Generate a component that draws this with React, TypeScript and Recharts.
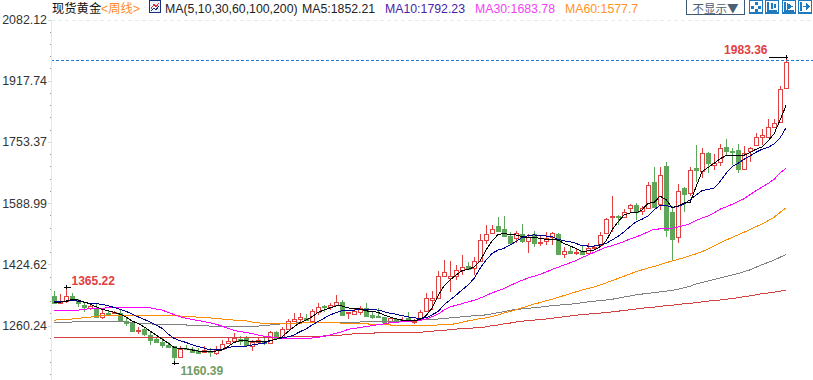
import { Bar, ComposedChart, Line, ReferenceLine, XAxis, YAxis } from 'recharts';

const axisLabels = [2082.12, 1917.74, 1753.37, 1588.99, 1424.62, 1260.24];
const lastPrice = 1972;

const opens = [
  1341, 1321, 1328, 1341, 1330, 1317, 1308, 1308, 1285, 1296,
  1295, 1294, 1274, 1267, 1247, 1251, 1236, 1225, 1217, 1210,
  1206, 1178, 1200, 1198, 1193, 1190, 1193, 1187, 1198, 1214,
  1221, 1225, 1228, 1206, 1217, 1220, 1215, 1243, 1231, 1253,
  1274, 1279, 1282, 1274, 1299, 1315, 1310, 1317, 1325, 1294,
  1292, 1299, 1308, 1290, 1288, 1285, 1272, 1279, 1273, 1281,
  1272, 1281, 1301, 1330, 1335, 1395, 1390, 1395, 1411, 1421,
  1415, 1436, 1492, 1509, 1529, 1521, 1502, 1496, 1506, 1489,
  1506, 1484, 1489, 1500, 1507, 1454, 1462, 1457, 1462, 1455,
  1470, 1478, 1509, 1556, 1556, 1554, 1577, 1585, 1569, 1578,
  1646, 1588, 1689, 1567, 1498, 1631, 1617, 1684, 1676, 1724,
  1694, 1700, 1740, 1731, 1733, 1681, 1731, 1746, 1769, 1769,
  1795, 1808, 1899,
];
const closes = [
  1321, 1325, 1341, 1330, 1322, 1310, 1314, 1285, 1296, 1290,
  1298, 1274, 1267, 1247, 1249, 1239, 1223, 1217, 1210, 1205,
  1178, 1198, 1198, 1191, 1188, 1196, 1190, 1196, 1212, 1220,
  1228, 1221, 1208, 1216, 1223, 1215, 1243, 1227, 1251, 1273,
  1278, 1284, 1276, 1300, 1310, 1310, 1316, 1325, 1290, 1297,
  1301, 1308, 1288, 1285, 1285, 1272, 1281, 1272, 1277, 1274,
  1274, 1299, 1335, 1335, 1394, 1405, 1394, 1411, 1418, 1413,
  1435, 1490, 1507, 1521, 1516, 1502, 1484, 1511, 1489, 1500,
  1484, 1487, 1497, 1509, 1454, 1461, 1457, 1460, 1454, 1469,
  1473, 1505, 1547, 1557, 1554, 1566, 1585, 1566, 1578, 1638,
  1580, 1667, 1518, 1495, 1622, 1616, 1678, 1680, 1724, 1697,
  1699, 1737, 1731, 1727, 1681, 1724, 1737, 1767, 1773, 1794,
  1805, 1896, 1969,
];
const highs = [
  1355, 1346, 1365.22, 1350, 1332, 1323, 1323, 1321, 1303, 1301,
  1301, 1305, 1281, 1272, 1257, 1258, 1245, 1231, 1227, 1218,
  1206, 1206, 1209, 1205, 1200, 1206, 1200, 1206, 1223, 1231,
  1241, 1233, 1233, 1223, 1228, 1227, 1247, 1247, 1258, 1279,
  1296, 1296, 1292, 1305, 1323, 1317, 1321, 1343, 1330, 1299,
  1308, 1314, 1321, 1299, 1308, 1285, 1285, 1281, 1285, 1299,
  1278, 1303, 1348, 1355, 1409, 1437, 1435, 1424, 1451, 1433,
  1446, 1506, 1531, 1531, 1554, 1556, 1513, 1515, 1534, 1506,
  1515, 1503, 1513, 1512, 1509, 1473, 1475, 1466, 1478, 1482,
  1475, 1512, 1549, 1609, 1558, 1574, 1588, 1590, 1583, 1646,
  1686, 1688, 1700, 1583, 1642, 1634, 1686, 1746, 1737, 1728,
  1722, 1749, 1762, 1737, 1749, 1744, 1742, 1778, 1789, 1816,
  1816, 1905, 1983.36,
];
const lows = [
  1321, 1319, 1322, 1327, 1312, 1299, 1303, 1284, 1279, 1289,
  1292, 1272, 1260, 1243, 1238, 1233, 1209, 1215, 1202, 1203,
  1160.39, 1178, 1196, 1188, 1185, 1188, 1178, 1182, 1196, 1214,
  1220, 1209, 1204, 1193, 1212, 1209, 1214, 1225, 1230, 1251,
  1273, 1272, 1274, 1274, 1290, 1299, 1303, 1317, 1288, 1279,
  1290, 1290, 1285, 1279, 1284, 1270, 1267, 1270, 1272, 1272,
  1266, 1278, 1300, 1303, 1335, 1394, 1352, 1384, 1397, 1411,
  1397, 1435, 1480, 1506, 1516, 1498, 1482, 1482, 1484, 1457,
  1473, 1476, 1478, 1478, 1454, 1444, 1454, 1451, 1453, 1454,
  1466, 1475, 1507, 1513, 1531, 1549, 1563, 1545, 1558, 1577,
  1578, 1572, 1498, 1437, 1482, 1567, 1609, 1648, 1657, 1670,
  1679, 1690, 1719, 1693, 1670, 1679, 1701, 1745, 1746, 1767,
  1791, 1806, 1899,
];
const ma5 = [
  1324, 1324, 1327, 1332, 1330, 1325, 1319, 1312, 1305, 1301,
  1297, 1292, 1284, 1274, 1267, 1258, 1247, 1236, 1225, 1215,
  1203, 1199, 1199, 1196, 1193, 1193, 1193, 1193, 1196, 1205,
  1216, 1221, 1221, 1218, 1218, 1218, 1221, 1224, 1231, 1245,
  1258, 1269, 1276, 1285, 1297, 1303, 1309, 1314, 1314, 1309,
  1306, 1306, 1301, 1299, 1297, 1290, 1284, 1280, 1276, 1275,
  1274, 1278, 1288, 1308, 1341, 1368, 1384, 1397, 1409, 1412,
  1419, 1435, 1464, 1488, 1506, 1509, 1506, 1505, 1500, 1497,
  1498, 1496, 1493, 1493, 1491, 1482, 1475, 1469, 1460, 1462,
  1464, 1473, 1488, 1518, 1540, 1558, 1564, 1564, 1572, 1590,
  1592, 1609, 1600, 1579, 1582, 1591, 1591, 1634, 1675, 1686,
  1697, 1709, 1718, 1719, 1718, 1719, 1726, 1735, 1741, 1757,
  1776, 1813, 1852.21,
];
const ma10 = [
  1325, 1325, 1326, 1330, 1327, 1324, 1321, 1321, 1318, 1315,
  1310, 1305, 1300, 1292, 1285, 1278, 1271, 1263, 1254, 1239,
  1227, 1221, 1216, 1210, 1205, 1201, 1196, 1196, 1198, 1202,
  1206, 1206, 1206, 1209, 1212, 1214, 1220, 1225, 1228, 1231,
  1236, 1245, 1252, 1263, 1272, 1281, 1290, 1296, 1301, 1301,
  1303, 1305, 1305, 1305, 1303, 1299, 1294, 1292, 1288, 1285,
  1282, 1281, 1282, 1290, 1299, 1317, 1330, 1343, 1357, 1370,
  1388, 1415, 1437, 1455, 1464, 1469, 1478, 1487, 1498, 1503,
  1505, 1502, 1502, 1500, 1493, 1489, 1487, 1482, 1476, 1475,
  1475, 1478, 1482, 1491, 1501, 1513, 1527, 1540, 1547, 1556,
  1572, 1584, 1584, 1579, 1581, 1588, 1599, 1612, 1624, 1627,
  1630, 1648, 1670, 1688, 1697, 1708, 1717, 1727, 1735, 1740,
  1749, 1765, 1792.23,
];
const ma30 = [
  1303, 1303, 1303, 1303, 1303, 1305, 1307, 1307, 1308, 1309,
  1310, 1310, 1310, 1310, 1310, 1309, 1309, 1306, 1303, 1297,
  1291, 1285, 1281, 1278, 1275, 1272, 1269, 1265, 1260, 1254,
  1249, 1245, 1243, 1240, 1236, 1233, 1231, 1229, 1226, 1226,
  1226, 1226, 1226, 1228, 1230, 1232, 1236, 1241, 1245, 1251,
  1254, 1256, 1259, 1261, 1264, 1266, 1269, 1270, 1272, 1273,
  1274, 1276, 1279, 1285, 1292, 1303, 1311, 1316, 1320, 1325,
  1329, 1335, 1342, 1349, 1355, 1361, 1369, 1376, 1383, 1389,
  1394, 1399, 1405, 1412, 1418, 1424, 1430, 1436, 1444, 1451,
  1458, 1465, 1472, 1476, 1481, 1487, 1494, 1499, 1506, 1513,
  1520, 1521, 1522, 1523, 1526, 1530, 1535, 1544, 1550, 1556,
  1564, 1574, 1580, 1587, 1595, 1602, 1613, 1624, 1633, 1643,
  1654, 1671, 1683.78,
];
const ma60 = [
  1276, 1277, 1278, 1279, 1280, 1283, 1284, 1286, 1288, 1289,
  1289, 1289, 1289, 1289, 1289, 1289, 1289, 1289, 1289, 1288,
  1288, 1287, 1286, 1285, 1284, 1283, 1282, 1280, 1279, 1278,
  1276, 1275, 1274, 1271, 1269, 1267, 1267, 1267, 1267, 1267,
  1268, 1268, 1269, 1269, 1270, 1270, 1270, 1269, 1268, 1268,
  1267, 1267, 1266, 1265, 1265, 1264, 1263, 1262, 1261, 1261,
  1261, 1261, 1261, 1262, 1263, 1264, 1265, 1266, 1270, 1274,
  1277, 1280, 1282, 1286, 1290, 1295, 1299, 1304, 1309, 1314,
  1319, 1323, 1328, 1332, 1337, 1342, 1347, 1352, 1357, 1361,
  1365, 1370, 1376, 1382, 1388, 1394, 1400, 1406, 1411, 1416,
  1420, 1425, 1430, 1435, 1439, 1444, 1449, 1454, 1460, 1467,
  1475, 1483, 1491, 1498, 1505, 1512, 1519, 1527, 1534, 1543,
  1552, 1565, 1577.7,
];
const ma100 = [
  1270, 1270, 1270, 1271, 1271, 1272, 1273, 1273, 1273, 1273,
  1273, 1272, 1271, 1270, 1268, 1267, 1266, 1265, 1265, 1264,
  1264, 1263, 1263, 1262, 1261, 1261, 1260, 1260, 1259, 1259,
  1258, 1258, 1258, 1259, 1260, 1261, 1263, 1265, 1266, 1267,
  1268, 1269, 1269, 1269, 1269, 1270, 1270, 1270, 1270, 1270,
  1270, 1271, 1271, 1271, 1272, 1272, 1273, 1273, 1274, 1274,
  1275, 1276, 1277, 1278, 1279, 1280, 1282, 1283, 1285, 1286,
  1288, 1289, 1290, 1293, 1296, 1299, 1302, 1305, 1306, 1308,
  1309, 1311, 1313, 1315, 1316, 1318, 1319, 1320, 1323, 1325,
  1327, 1328, 1330, 1332, 1335, 1338, 1341, 1344, 1346, 1348,
  1350, 1352, 1354, 1356, 1359, 1363, 1367, 1373, 1377, 1381,
  1385, 1389, 1393, 1397, 1401, 1406, 1411, 1418, 1425, 1431,
  1437, 1445, 1452,
];
const ma200 = [
  1229, 1229, 1229, 1229, 1229, 1229, 1229, 1229, 1229, 1229,
  1229, 1229, 1229, 1229, 1229, 1229, 1229, 1229, 1229, 1229,
  1229, 1229, 1229, 1229, 1229, 1229, 1229, 1229, 1229, 1229,
  1229, 1229, 1229, 1229, 1229, 1229, 1229, 1229, 1229, 1231,
  1231, 1231, 1231, 1231, 1231, 1234, 1234, 1234, 1236, 1238,
  1239, 1240, 1240, 1241, 1242, 1242, 1243, 1243, 1243, 1243,
  1243, 1243, 1245, 1246, 1248, 1249, 1250, 1252, 1253, 1254,
  1255, 1256, 1258, 1261, 1263, 1266, 1268, 1271, 1273, 1275,
  1276, 1278, 1279, 1281, 1283, 1285, 1287, 1289, 1291, 1292,
  1294, 1295, 1296, 1298, 1300, 1302, 1304, 1306, 1308, 1310,
  1311, 1313, 1315, 1316, 1318, 1320, 1321, 1323, 1325, 1327,
  1329, 1330, 1332, 1334, 1336, 1339, 1341, 1344, 1347, 1349,
  1351, 1354, 1356,
];

const RED = '#e0403f';
const GREEN = '#5ea65a';

// four empty weeks on the right so the plot runs to the window edge
const rows = [...opens, 0, 0, 0, 0].map((_, i) =>
  i < opens.length
    ? {
        week: i,
        range: [lows[i], highs[i]],
        open: opens[i],
        close: closes[i],
        high: highs[i],
        low: lows[i],
        ma5: ma5[i],
        ma10: ma10[i],
        ma30: ma30[i],
        ma60: ma60[i],
        ma100: ma100[i],
        ma200: ma200[i],
      }
    : { week: i },
);

// the early swing high is the only one the source labels besides the last bar
const swingHigh = Math.max(...highs.slice(0, 60));
const minLow = Math.min(...lows);
const lastHigh = highs[highs.length - 1];

const step = (axisLabels[0] - axisLabels[1]) / 5;
const allTicks = Array.from({ length: 30 }, (_, i) => axisLabels[0] - step * i);

function Candle(props: any) {
  const { x, y, width, height, payload } = props;
  if (!payload || !payload.range) return null;
  const { open, close, high, low } = payload;
  const unit = height / (high - low);
  const py = (v: number) => Math.round(y + (high - v) * unit);
  const c = Math.floor(x + width / 2) + 0.5;
  const up = close >= open;
  const color = up ? RED : GREEN;
  const top = py(Math.max(open, close));
  const bottom = Math.max(py(Math.min(open, close)), top + 1);
  return (
    <g>
      <line x1={c} x2={c} y1={py(high)} y2={top} stroke={color} />
      <line x1={c} x2={c} y1={bottom} y2={py(low)} stroke={color} />
      {up ? (
        <rect x={c - 2} y={top + 0.5} width={4} height={bottom - top} fill="#fff" stroke={color} />
      ) : (
        <rect x={c - 2.5} y={top} width={5} height={bottom - top + 1} fill={color} />
      )}
      {high === swingHigh && (
        <g>
          <line x1={c - 3} x2={c + 4} y1={py(high) + 0.5} y2={py(high) + 0.5} stroke="#000" />
          <line x1={c} x2={c} y1={py(high) - 2} y2={py(high) + 2} stroke="#000" />
          <text x={c + 5} y={py(high) - 2} fontSize={12} fontWeight="bold" fill={RED} fontFamily="Liberation Sans">
            {high}
          </text>
        </g>
      )}
      {low === minLow && (
        <g>
          <line x1={c - 3} x2={c + 4} y1={py(low) + 0.5} y2={py(low) + 0.5} stroke="#000" />
          <line x1={c} x2={c} y1={py(low) - 2} y2={py(low) + 2} stroke="#000" />
          <text x={c + 6} y={py(low) + 12} fontSize={12} fontWeight="bold" fill="#6f9c62" fontFamily="Liberation Sans">
            {low}
          </text>
        </g>
      )}
      {high === lastHigh && (
        <g>
          <line x1={c - 18} x2={c + 1} y1={py(high) + 0.5} y2={py(high) + 0.5} stroke="#000" />
          <line x1={c} x2={c} y1={py(high) - 2} y2={py(high) + 2} stroke="#000" />
          <text x={c - 19} y={py(high) - 3} textAnchor="end" fontSize={12} fontWeight="bold" fill={RED} fontFamily="Liberation Sans">
            {high}
          </text>
        </g>
      )}
    </g>
  );
}

function AxisTick(props: any) {
  const { x, y, payload } = props;
  const label = axisLabels.find((v) => Math.abs(v - payload.value) < 0.5);
  if (label === undefined) {
    return <line x1={x + 7} x2={x + 8} y1={y} y2={y} stroke="#999" />;
  }
  return (
    <g>
      <line x1={x + 5} x2={x + 8} y1={y} y2={y} stroke="#c8dcea" />
      <text x={47} y={y + 4} textAnchor="end" fontSize={12.4} fill="#333" fontFamily="Liberation Sans">
        {label.toFixed(2)}
      </text>
    </g>
  );
}

function Label({ x, color, children, family }: any) {
  return (
    <span
      style={{
        position: 'absolute',
        left: x,
        top: 2,
        fontSize: 12.3,
        lineHeight: '14px',
        whiteSpace: 'nowrap',
        color,
        fontFamily: family || '"Liberation Sans", "Noto Sans CJK SC"',
      }}
    >
      {children}
    </span>
  );
}

function ToolButton({ x, children }: any) {
  return (
    <svg style={{ position: 'absolute', left: x, top: 0 }} width={14} height={14}>
      <rect x={0.5} y={0.5} width={13} height={12.5} fill="#fff" stroke="#1f7bc0" strokeWidth={1.2} />
      {children}
    </svg>
  );
}

export default function App() {
  return (
    <div
      style={{
        position: 'absolute',
        left: 0,
        top: 0,
        width: 813,
        height: 380,
        background: '#fff',
        overflow: 'hidden',
        shapeRendering: 'crispEdges',
      }}
    >
      <ComposedChart
        width={813}
        height={380}
        data={rows}
        barCategoryGap={0}
        margin={{ top: 20, right: 0, bottom: 0, left: 1 }}
      >
        <XAxis dataKey="week" hide />
        <YAxis
          type="number"
          width={50}
          domain={[1115.2, 2082.12]}
          ticks={allTicks}
          interval={0}
          allowDataOverflow
          tickLine={false}
          axisLine={{ stroke: '#dfeaee' }}
          tick={<AxisTick />}
        />
        <ReferenceLine y={axisLabels[0]} stroke="#e6eceb" strokeDasharray="4 3" />
        <ReferenceLine y={lastPrice} stroke="#1e78d8" strokeDasharray="3 2" />
        <Bar dataKey="range" barSize={5} isAnimationActive={false} shape={<Candle />} />
        <Line dataKey="ma200" stroke="#d2403f" strokeWidth={1} dot={false} isAnimationActive={false} />
        <Line dataKey="ma100" stroke="#808080" strokeWidth={1} dot={false} isAnimationActive={false} />
        <Line dataKey="ma60" stroke="#ff8c00" strokeWidth={1} dot={false} isAnimationActive={false} />
        <Line dataKey="ma30" stroke="#ff00ff" strokeWidth={1} dot={false} isAnimationActive={false} />
        <Line dataKey="ma10" stroke="#000090" strokeWidth={1} dot={false} isAnimationActive={false} />
        <Line dataKey="ma5" stroke="#000" strokeWidth={1} dot={false} isAnimationActive={false} />
      </ComposedChart>

      <Label x={52} color="#111">现货黄金</Label>
      <Label x={101} color="#ff8c2a">&lt;周线&gt;</Label>
      <svg style={{ position: 'absolute', left: 149, top: 0 }} width={12} height={14}>
        <rect x={0.5} y={0.5} width={11} height={12} fill="#eef2fb" stroke="#1a2f7a" />
        <polyline points="2,9 5,4 7,7 10,3" fill="none" stroke="#d33" />
        <polyline points="2,11 5,8 7,10 10,6" fill="none" stroke="#1a2f7a" />
      </svg>
      <Label x={165} color="#222">MA(5,10,30,60,100,200)</Label>
      <Label x={302} color="#222">MA5:1852.21</Label>
      <Label x={385} color="#4a22a8">MA10:1792.23</Label>
      <Label x={475} color="#f23ff2">MA30:1683.78</Label>
      <Label x={565} color="#ff9326">MA60:1577.7</Label>

      <div
        style={{
          position: 'absolute',
          left: 686,
          top: 0,
          width: 59,
          height: 15,
          boxSizing: 'border-box',
          borderLeft: '1px solid #3f5873',
          borderRight: '1px solid #3f5873',
          borderBottom: '1px solid #3f5873',
          fontSize: 11.5,
          lineHeight: '17px',
          color: '#4b6075',
          textAlign: 'center',
          fontFamily: '"Noto Sans CJK SC"',
        }}
      >
        不显示▼
      </div>
      <ToolButton x={749}>
        <rect x={5.5} y={2} width={3} height={3} fill="#1f7bc0" />
        <rect x={5.5} y={9} width={3} height={3} fill="#1f7bc0" />
        <rect x={2} y={5.5} width={3} height={3} fill="#1f7bc0" />
        <rect x={9} y={5.5} width={3} height={3} fill="#1f7bc0" />
      </ToolButton>
      <ToolButton x={765}>
        <path d="M3 2V11H12M7 3V9M10 4V8" fill="none" stroke="#1f7bc0" strokeWidth={1.4} />
      </ToolButton>
      <ToolButton x={782}>
        <path d="M3 2V11H12" fill="none" stroke="#1f7bc0" strokeWidth={1.4} />
        <path d="M5 3L11 6.5L5 10Z" fill="#1f7bc0" />
      </ToolButton>
      <ToolButton x={798}>
        <path d="M3 2V11M5 6.5H9" fill="none" stroke="#1f7bc0" strokeWidth={1.6} />
        <path d="M8 3L12 6.5L8 10Z" fill="#1f7bc0" />
      </ToolButton>
    </div>
  );
}
